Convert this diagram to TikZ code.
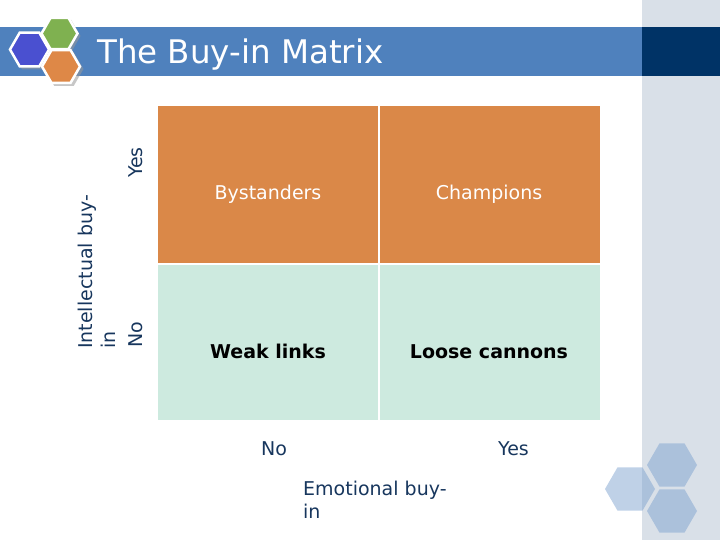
\documentclass[tikz,border=0pt]{standalone}
\usepackage{fontspec}
\setmainfont{DejaVu Sans}
\usetikzlibrary{shapes.geometric}
\definecolor{barblue}{HTML}{4F81BD}
\definecolor{navybar}{HTML}{003366}
\definecolor{panelgray}{HTML}{D9E0E8}
\definecolor{cellorange}{HTML}{DA8848}
\definecolor{cellmint}{HTML}{CDEADF}
\definecolor{labelnavy}{HTML}{17365D}
\definecolor{hexblue}{HTML}{4A50D0}
\definecolor{hexgreen}{HTML}{7FB150}
\definecolor{hexorange}{HTML}{DE8847}
\definecolor{hexpale}{HTML}{7FA3D0}
\tikzset{
  cell/.style={draw=none, inner sep=0pt},
  hexbig/.style={regular polygon, regular polygon sides=6, inner sep=0pt, minimum size=#1},
  logohex/.style={hexbig=#1, draw=white, line width=2.5pt},
  shadowhex/.style={hexbig=#1, fill=black!40, opacity=0.55},
  palehex/.style={hexbig=50pt, fill=hexpale, fill opacity=0.5, draw=none},
  axislabel/.style={text=labelnavy, font=\fontsize{19}{23}\selectfont, inner sep=0pt},
  celltext/.style={font=\fontsize{19}{23}\selectfont, inner sep=0pt}
}
\begin{document}
\begin{tikzpicture}[x=1pt,y=-1pt]
\useasboundingbox (0,0) rectangle (720,540);
% right panel and title bar
\fill[panelgray] (642,0) rectangle (720,540);
\fill[barblue] (0,27) rectangle (642,76);
\fill[navybar] (642,27) rectangle (720,76);
% logo hexagons
\node[shadowhex=40pt] at (32,52) {};
\node[shadowhex=37pt] at (62,36) {};
\node[shadowhex=39pt] at (64,69) {};
\node[logohex=39pt, fill=hexblue] (hexa) at (29.5,49.5) {};
\node[logohex=36pt, fill=hexgreen] (hexb) at (59.5,33.5) {};
\node[logohex=38pt, fill=hexorange] (hexc) at (61,66.5) {};
% title
\node[anchor=base west, text=white, font=\fontsize{32.5}{38}\selectfont, inner sep=0pt] (title) at (97,63.5) {The Buy-in Matrix};
% matrix cells
\fill[cellorange] (158,106) rectangle (377.5,262.5) node[midway] (c11) {};
\fill[cellorange] (379.5,106) rectangle (600,262.5) node[midway] (c12) {};
\fill[cellmint] (158,264.5) rectangle (377.5,420) node[midway] (c21) {};
\fill[cellmint] (379.5,264.5) rectangle (600,420) node[midway] (c22) {};
\node[celltext, text=white] (bys) at (268,194) {Bystanders};
\node[celltext, text=white] (cha) at (489,194) {Champions};
\node[celltext, font=\fontsize{19}{23}\selectfont\bfseries] (weak) at (268,351.5) {Weak links};
\node[celltext, font=\fontsize{19}{23}\selectfont\bfseries] (loose) at (489,351.5) {Loose cannons};
% axis labels
\node[axislabel, rotate=90, anchor=base west] (yyes) at (142,178) {Yes};
\node[axislabel, rotate=90, anchor=base west] (yno) at (142,348) {No};
\node[axislabel, rotate=90, anchor=north west, align=left] (ylab) at (78,349) {Intellectual buy-\\in};
\node[axislabel, anchor=base] (xno) at (274,455) {No};
\node[axislabel, anchor=base] (xyes) at (513.5,455) {Yes};
\node[axislabel, anchor=north west, align=left] (xlab) at (303,480.5) {Emotional buy-\\in};
% pale hexagons bottom right
\node[palehex] (p1) at (672,465) {};
\node[palehex] (p2) at (630,489) {};
\node[palehex] (p3) at (672,511) {};
\end{tikzpicture}
\end{document}
